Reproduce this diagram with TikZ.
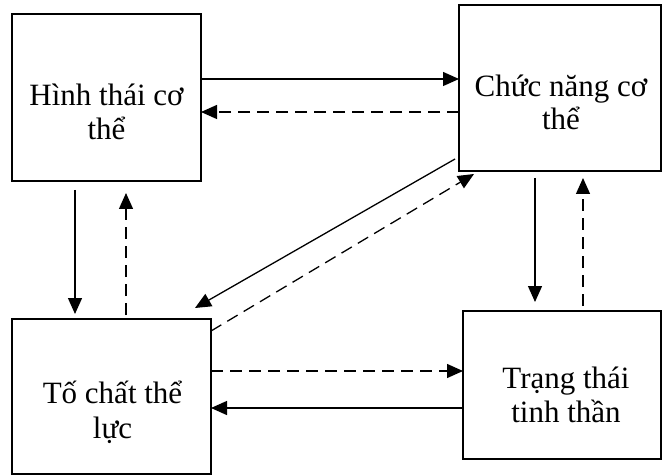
\documentclass[tikz,border=0pt]{standalone}
\usepackage{fontspec}
\setmainfont{Liberation Serif}
\usetikzlibrary{arrows.meta}
\begin{document}
\begin{tikzpicture}[x=0.5pt,y=-0.5pt,
  box/.style={draw, line width=1pt, inner sep=0pt, outer sep=0pt},
  txt/.style={anchor=base, inner sep=0pt, font=\fontsize{15.5}{18}\selectfont},
  conn/.style={line width=0.65pt, -{Triangle[length=8pt,width=7pt]}},
  dconn/.style={conn, dash pattern=on 6pt off 3.5pt}]
\useasboundingbox (0,0) rectangle (662,475);
% boxes
\node[box, minimum width=94.5pt, minimum height=83.5pt] (A) at (106.5,97.5) {};
\node[box, minimum width=101pt, minimum height=83pt] (B) at (560,88) {};
\node[box, minimum width=99.5pt, minimum height=77.5pt] (C) at (111.5,396.5) {};
\node[box, minimum width=99pt, minimum height=74pt] (D) at (562,385) {};
% texts
\node[txt] (a1) at (106.5,106) {Hình thái cơ};
\node[txt] (a2) at (106.5,140) {thể};
\node[txt] (b1) at (561,97) {Chức năng cơ};
\node[txt] (b2) at (561,130) {thể};
\node[txt] (c1) at (112.5,403) {Tố chất thể};
\node[txt] (c2) at (112.5,438) {lực};
\node[txt] (d1) at (566,388) {Trạng thái};
\node[txt] (d2) at (566,422) {tinh thần};
% horizontal connectors
\draw[conn] (A.east |- 0,79) -- (B.west |- 0,79);
\draw[dconn] (B.west |- 0,112) -- (A.east |- 0,112);
\draw[dconn] (C.east |- 0,371) -- (D.west |- 0,371);
\draw[conn] (D.west |- 0,408) -- (C.east |- 0,408);
% vertical connectors
\draw[conn, shorten <=4.5pt, shorten >=2.5pt] (A.south -| 75,0) -- (C.north -| 75,0);
\draw[dconn, shorten <=2pt, shorten >=6pt] (C.north -| 126,0) -- (A.south -| 126,0);
\draw[conn, shorten <=3.5pt, shorten >=4.5pt] (B.south -| 535,0) -- (D.north -| 535,0);
\draw[dconn, shorten <=2.5pt, shorten >=3.5pt] (D.north -| 583,0) -- (B.south -| 583,0);
% diagonal connectors
\draw[conn] ([shift={(-4,-12)}]B.south west) -- ([shift={(-16,-11)}]C.north east);
\draw[dconn] ([shift={(0,12)}]C.north east) -- ([shift={(15,3)}]B.south west);
\end{tikzpicture}
\end{document}
